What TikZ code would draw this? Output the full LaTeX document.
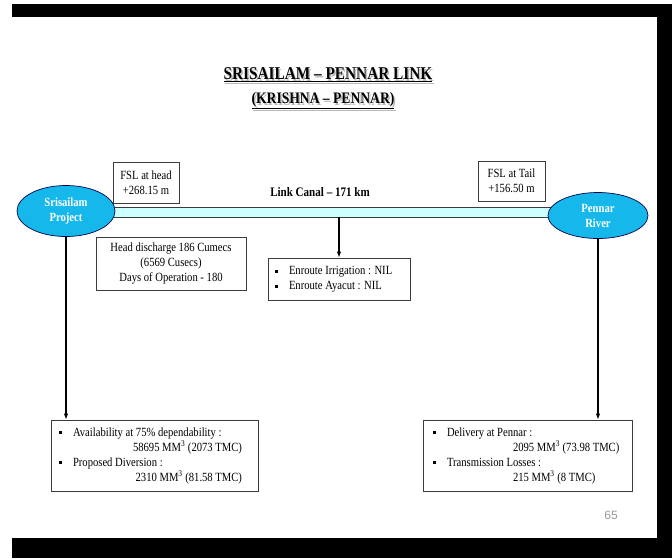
\documentclass[tikz,border=0pt]{standalone}
\usepackage{fontspec}
\setmainfont{Liberation Serif}[FakeStretch=0.85]
\newfontfamily\pagefont{Liberation Sans}
\usetikzlibrary{arrows.meta, shapes.geometric}

\definecolor{riverblue}{RGB}{22,184,235}
\definecolor{canalcyan}{RGB}{204,255,255}
\definecolor{edgegray}{RGB}{60,60,60}
\newcommand{\sqbul}{\raisebox{0.3ex}{\rule{3pt}{3pt}}\hspace{11pt}}

\begin{document}
\begin{tikzpicture}[x=1pt, y=-1pt,
    every node/.style={font=\fontsize{12.5}{15}\selectfont},
    infobox/.style={draw=edgegray, line width=0.8pt, fill=white, inner sep=0pt, align=center},
    place/.style={ellipse, draw=black!70!blue, line width=0.7pt, fill=riverblue, text=white,
        font=\fontsize{12.5}{15}\selectfont\bfseries, align=center, inner sep=0pt},
    canalbar/.style={draw=edgegray, line width=0.8pt, fill=canalcyan, inner sep=0pt, minimum height=10pt},
    flow/.style={-{Latex[length=6pt,width=4.5pt]}, line width=1.1pt}]
    \useasboundingbox (0,0) rectangle (672,558);
    \fill[white] (0,0) rectangle (672,558);
    % slide frame
    \fill[black] (12,4) rectangle (672,17);
    \fill[black] (657,4) rectangle (672,558);
    \fill[black] (12,538) rectangle (672,558);
    % headings
    \node[text=gray!55, font=\fontsize{18}{20}\selectfont\bfseries] (titleshade) at (329.5,76.5) {\underline{SRISAILAM -- PENNAR LINK}};
    \node[font=\fontsize{18}{20}\selectfont\bfseries] (title) at (328,75) {\underline{SRISAILAM -- PENNAR LINK}};
    \node[text=gray!55, font=\fontsize{16}{18}\selectfont\bfseries] (subtitleshade) at (324.5,102.5) {\underline{(KRISHNA -- PENNAR)}};
    \node[font=\fontsize{16}{18}\selectfont\bfseries] (subtitle) at (323,101) {\underline{(KRISHNA -- PENNAR)}};
    % canal and the two ends
    \node[canalbar, minimum width=450pt] (canal) at (332.5,212) {};
    \node[place, minimum width=98pt, minimum height=51pt] (srisailam) at (66,211) {Srisailam\\Project};
    \node[place, minimum width=100pt, minimum height=46pt] (pennar) at (598,215.5) {Pennar\\River};
    \node[font=\fontsize{13}{15}\selectfont\bfseries] (canallabel) at (320,192) {Link Canal -- 171 km};
    \node[infobox, minimum width=66pt, minimum height=41pt] (fslhead) at (146,182.5) {FSL at head\\+268.15 m};
    \node[infobox, minimum width=67pt, minimum height=40pt] (fsltail) at (511.5,181) {FSL at Tail\\+156.50 m};
    \node[infobox, minimum width=150pt, minimum height=53pt] (discharge) at (171,263.5) {Head discharge 186 Cumecs\\(6569 Cusecs)\\Days of Operation - 180};
    % enroute
    \node[infobox, align=left, inner xsep=7pt, minimum height=42pt] (enroute) at (339,279)
        {\makebox[128pt][l]{\sqbul Enroute Irrigation : NIL}\\\sqbul Enroute Ayacut : NIL};
    % water balance at the two ends
    \node[infobox, align=left, inner xsep=8pt, minimum height=71pt] (avail) at (154.5,455.5)
        {\sqbul Availability at 75\% dependability :\\
         \makebox[191pt][r]{58695 MM\textsuperscript{3} (2073 TMC)\hspace*{8pt}}\\
         \sqbul Proposed Diversion :\\
         \makebox[191pt][r]{2310 MM\textsuperscript{3} (81.58 TMC)\hspace*{8pt}}};
    \node[infobox, align=left, inner xsep=10pt, minimum height=71pt] (delivery) at (527.5,455.5)
        {\makebox[189pt][l]{\sqbul Delivery at Pennar :}\\
         \hspace*{80pt}2095 MM\textsuperscript{3} (73.98 TMC)\\
         \sqbul Transmission Losses :\\
         \hspace*{80pt}215 MM\textsuperscript{3} (8 TMC)};
    % arrows
    \draw[flow] (canal.south -| enroute.north) -- (enroute.north);
    \draw[flow] (srisailam.south) -- (srisailam.south |- avail.north);
    \draw[flow] (pennar.south) -- (pennar.south |- delivery.north);
    % slide number
    \node[text=gray!80, font=\pagefont\fontsize{12}{14}\selectfont] (pagenum) at (611,515) {65};
\end{tikzpicture}
\end{document}
